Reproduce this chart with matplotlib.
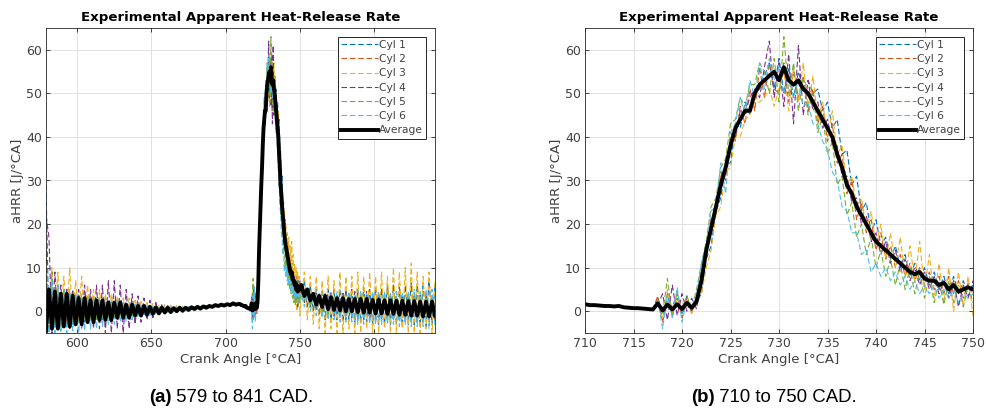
import numpy as np
import matplotlib
matplotlib.use("Agg")
import matplotlib.pyplot as plt

# ---------------- data ----------------
# crank-angle sampling: coarse before/after combustion, fine around it
crank_angle = np.concatenate([np.arange(579, 710, 2),        # 66 samples
                              np.arange(710, 750.5, 0.5),    # 81 samples
                              np.arange(751, 842, 2)])       # 46 samples

avg = [
    # 579..709
    -4.5, 5, -4, 4.5, -4, 4, -3.5, 4, -3.5, 3.5,
    -3, 3, -3, 3, -2.5, 2.5, -2.5, 2.5, -2, 2.5,
    -2, 2, -2, 2, -1.5, 2, -1.5, 1.5, -1.5, 1.5,
    -1, 1.2, -1, 1.2, -0.8, 1, -0.6, 0.9, -0.5, 0.8,
    -0.3, 0.8, -0.2, 0.7, 0, 0.8, 0.1, 0.8, 0.3, 0.9,
    0.5, 1.0, 0.6, 1.1, 0.8, 1.2, 1.0, 1.4, 1.2, 1.5,
    1.3, 1.6, 1.4, 1.8, 1.5, 1.7,
    # 710..750
    1.6, 1.4, 1.4, 1.3, 1.2, 1.2, 1.1, 1.2, 0.9, 0.8,
    0.7, 0.7, 0.6, 0.5, 0.4, 1.8, 0.2, 1.5, 0.4, 1.6,
    0.5, 1.9, 0.8, 2.2, 7, 14, 19, 24, 29, 33,
    38, 42, 44, 46, 46, 50, 52, 53, 54, 55,
    53, 56, 53, 52, 53, 51, 50, 48, 46, 44,
    42, 40, 36, 33, 29, 27, 24, 22, 20, 18,
    16, 15, 14, 13, 12, 11, 10, 9, 8.5, 9,
    7.5, 7, 7, 6, 6.5, 5, 6, 4.5, 5, 5.5,
    5,
    # 751..841
    6, 3.5, 5, 2.5, 4, 1.5, 3.5, 1, 3.5, 0.5,
    3.2, 0.3, 3, 0.2, 3, 0, 2.8, 0, 2.8, -0.2,
    2.8, -0.3, 2.8, -0.3, 2.6, -0.5, 2.6, -0.5, 2.5, -0.6,
    2.5, -0.6, 2.4, -0.8, 2.4, -0.8, 2.3, -1, 2.3, -1,
    2.2, -1.2, 2.2, -1.2, 2.2, -1,
]

cyl1 = [
    29, -5, 7, -4, 5, -3.5, 5, -3, 4, -3,
    3.5, -2.5, 3, -2.5, 3, -2, 2.5, -2, 2.5, -2,
    2, -1.5, 2, -1.5, 2, -1.2, 1.6, -1, 1.5, -1,
    1.3, -0.8, 1.2, -0.6, 1, -0.5, 1, -0.3, 0.9, -0.2,
    0.8, 0, 0.8, 0.2, 0.9, 0.3, 0.9, 0.4, 1.0, 0.6,
    1.0, 0.7, 1.1, 0.9, 1.2, 1.0, 1.3, 1.2, 1.4, 1.3,
    1.6, 1.4, 1.7, 1.5, 1.8, 1.6,
    1.7, 1.5, 1.4, 1.3, 1.3, 1.2, 1.1, 1.1, 1.0, 0.8,
    0.8, 0.6, 0.6, 0.5, 0.4, 3, -2, 4, -1, 3,
    -0.5, 3.5, 0, 2, 4, 12, 15, 23, 26, 34,
    34, 43, 42, 48, 45, 50, 51, 54, 57, 51,
    58, 50, 56, 49, 55, 51, 53, 50, 51, 46,
    48, 42, 44, 36, 37, 29, 31, 23, 25, 18,
    21, 15, 17, 12, 15, 10, 13, 8, 11, 7,
    10, 6, 9, 5, 8, 4, 8, 4, 7, 3.5,
    6,
    4, 7, 1, 6, 0, 5, -1, 5, -2, 5,
    -2, 5, -2, 5, -2.5, 5, -2, 5, -2.5, 5,
    -2.5, 5.5, -2.5, 5, -3, 5.5, -3, 5, -3, 6,
    -3, 6, -3, 5.5, -3.5, 6, -3, 6.5, -3.5, 6,
    -3.5, 6.5, -3.5, 7, -3, 6,
]

cyl2 = [
    12, -3, 5, -3, 4, -3, 4, -2.5, 3.5, -2.5,
    3, -2.5, 3, -2, 2.5, -2, 2.5, -2, 2, -1.5,
    2, -1.5, 2, -1.5, 1.5, -1, 1.5, -1, 1.5, -1,
    1.2, -0.8, 1.1, -0.6, 1, -0.4, 0.9, -0.3, 0.8, -0.2,
    0.8, 0, 0.8, 0.1, 0.8, 0.3, 0.9, 0.4, 1.0, 0.5,
    1.0, 0.7, 1.1, 0.8, 1.2, 1.0, 1.3, 1.1, 1.4, 1.3,
    1.5, 1.4, 1.6, 1.5, 1.7, 1.6,
    1.6, 1.5, 1.4, 1.3, 1.2, 1.1, 1.1, 1.0, 0.9, 0.8,
    0.7, 0.6, 0.5, 0.5, 0.4, 3.5, -2.5, 2.5, 1, 4,
    -1.5, 3, -0.5, 3.5, 9, 13, 21, 22, 32, 30,
    41, 39, 47, 43, 51, 46, 56, 49, 57, 51,
    50, 57, 48, 55, 49, 54, 46, 51, 43, 47,
    39, 43, 34, 36, 27, 30, 21, 25, 18, 21,
    14, 18, 12, 15, 10, 13, 8, 11, 7, 10,
    6, 9, 5, 8, 4, 8, 4, 7, 3, 6.5,
    4,
    5, 3, 5, 2, 4, 1, 4, 0, 4, 0,
    4, -0.5, 3.5, -0.5, 3.5, -1, 3.5, -1, 3.5, -1,
    3.5, -1, 3.5, -1.5, 3.5, -1.5, 3, -1.5, 3.5, -1.5,
    3.5, -1.5, 3, -2, 3.5, -2, 3, -2, 3.5, -2,
    3, -2, 3.5, -2, 3, -2,
]

cyl3 = [
    8, -2, 10, -1, 9, -2, 8, -1, 10, -2,
    7, -1.5, 8, -2, 6, -1.5, 5, -2, 5, -1.5,
    4, -1.5, 4, -1, 3.5, -1, 3, -1, 3, -0.8,
    2.5, -0.6, 2.2, -0.5, 2, -0.3, 1.8, -0.2, 1.6, 0,
    1.5, 0, 1.4, 0.2, 1.3, 0.3, 1.2, 0.4, 1.2, 0.6,
    1.2, 0.7, 1.3, 0.9, 1.3, 1.0, 1.4, 1.1, 1.5, 1.3,
    1.6, 1.4, 1.7, 1.5, 1.8, 1.6,
    1.6, 1.4, 1.4, 1.3, 1.2, 1.2, 1.0, 1.1, 0.9, 0.8,
    0.7, 0.7, 0.6, 0.4, 0.3, 2.5, -2, 5, -1, 3,
    1.5, 2.5, -0.5, 2, 4, 10, 14, 22, 24, 32,
    33, 40, 40, 44, 45, 48, 48, 49, 51, 47,
    51, 55, 46, 56, 48, 57, 47, 54, 44, 48,
    40, 46, 36, 38, 29, 31, 24, 26, 19, 23,
    15, 20, 12, 18, 10, 17, 8, 15, 7, 16,
    5, 13, 3, 11, 2, 10, 0, 9, 1, 8,
    -1,
    3, 9, -2, 8, -3, 8, -4, 7, -5, 8,
    -4, 7, -5, 9, -5, 8, -4, 8, -5, 9,
    -5, 8, -4, 9, -5, 8, -5, 9, -4, 8,
    -5, 10, -5, 9, -4, 10, -5, 11, -5, 9,
    -5, 8, -4, 9, -5, 7,
]

cyl4 = [
    22, 17, -5, 9, -4, 6, -3, 5, -4, 5,
    -3, 5, -4, 6, -3, 5, -4, 6, -4, 6,
    -5, 7, -5, 7, -4, 6, -5, 5, -4, 4,
    -3, 3.5, -2.5, 3, -2, 2.5, -1.5, 2, -1, 1.5,
    -0.5, 1.3, 0, 1.1, 0.2, 1, 0.3, 1, 0.5, 1,
    0.6, 1.1, 0.8, 1.2, 0.9, 1.3, 1.1, 1.4, 1.2, 1.5,
    1.4, 1.6, 1.5, 1.8, 1.6, 1.7,
    1.6, 1.4, 1.3, 1.3, 1.2, 1.1, 1.1, 1.0, 0.9, 0.8,
    0.7, 0.6, 0.6, 0.5, 0.4, 1.5, 4, -2, 6, -1,
    4, 0, 3, 0.5, 8, 12, 21, 23, 31, 33,
    40, 40, 46, 46, 49, 51, 49, 56, 62, 49,
    57, 47, 59, 43, 61, 45, 53, 46, 48, 42,
    44, 38, 38, 31, 31, 25, 26, 20, 22, 16,
    18, 13, 16, 11, 14, 9, 12, 7, 10, 6,
    9, 5, 8, 4, 7, 3, 7, 1, 6, 3,
    7,
    6, 2, 5, 1, 4, 0, 4, -1, 4, -1,
    4.5, -1.5, 4, -1.5, 4.5, -2, 4, -1.5, 4.5, -2,
    4, -2, 4.5, -2, 4, -2, 4.5, -2, 4, -2,
    4, -2, 4.5, -2, 4, -2.5, 4, -2, 4, -2.5,
    4, -2.5, 4, -2, 3.5, -2,
]

cyl5 = [
    14, -4, 9, -3, 6, -3, 5, -3, 4, -2.5,
    4, -2.5, 3, -2, 3, -2, 2.5, -2, 2.5, -1.5,
    2, -1.5, 2, -1.2, 1.8, -1, 1.6, -1, 1.4, -0.8,
    1.3, -0.6, 1.2, -0.5, 1.1, -0.3, 1.0, -0.2, 0.9, 0,
    0.9, 0.1, 0.9, 0.2, 0.9, 0.3, 1.0, 0.5, 1.0, 0.6,
    1.1, 0.7, 1.1, 0.9, 1.2, 1.0, 1.3, 1.2, 1.4, 1.3,
    1.5, 1.4, 1.7, 1.5, 1.8, 1.6,
    1.6, 1.5, 1.4, 1.3, 1.2, 1.2, 1.1, 1.1, 0.9, 0.9,
    0.7, 0.7, 0.6, 0.5, 0.4, 2.5, -0.5, 7.5, -1.5, 4.5,
    -0.5, 3.5, 0.5, 5, 11, 16, 24, 26, 33, 35,
    43, 44, 49, 47, 52, 52, 57, 55, 50, 58,
    48, 63, 50, 57, 46, 54, 45, 50, 41, 45,
    36, 39, 29, 31, 22, 25, 17, 20, 13, 17,
    10, 14, 8, 12, 6, 11, 5, 10, 4, 9,
    3, 8, 2, 7, 1.5, 7, 2, 6, 1, 6,
    2,
    5, 2.5, 4.5, 1.5, 4, 1, 3.5, 0, 3.5, -0.5,
    3.5, -1, 3.5, -1, 3, -1, 3.5, -1.5, 3, -1.5,
    3.5, -1.5, 3, -1.5, 3.5, -2, 3, -1.5, 3.5, -2,
    3, -2, 3.5, -2, 3, -2, 3.5, -2.5, 3, -2.5,
    3.5, -2.5, 3, -2.5, 3.5, -2,
]

cyl6 = [
    6, -5, 7, -5, 6, -5, 5, -5, 5, -4.5,
    4, -5, 4, -4.5, 3.5, -4, 3.5, -4, 3, -3.5,
    3, -3, 2.5, -3, 2.5, -2.5, 2, -2.5, 2, -2,
    1.6, -1.5, 1.5, -1.2, 1.3, -1, 1.2, -0.8, 1.1, -0.5,
    1.0, -0.3, 1.0, -0.1, 0.9, 0.1, 0.9, 0.3, 1.0, 0.5,
    1.0, 0.6, 1.1, 0.8, 1.2, 0.9, 1.3, 1.1, 1.4, 1.2,
    1.5, 1.4, 1.6, 1.5, 1.7, 1.6,
    1.7, 1.5, 1.4, 1.3, 1.3, 1.2, 1.1, 1.0, 1.0, 0.8,
    0.7, 0.6, 0.6, 0.5, 0.4, 2.5, -4, 3.5, -1.5, 5.5,
    -2.5, 2.5, 0.5, 3.5, 11, 15, 23, 24, 34, 27,
    41, 43, 49, 45, 53, 49, 57, 51, 58, 53,
    56, 50, 54, 49, 53, 47, 48, 43, 43, 39,
    37, 32, 30, 24, 23, 18, 18, 13, 14, 9,
    11, 8, 10, 7, 9, 6, 8, 5, 7, 4,
    6, 4, 6, 3, 5, 3, 5, 2, 4, 3,
    4,
    4, 1, 4, 0, 3.5, -1, 4, -1.5, 4, -2,
    4, -2, 4.5, -2.5, 4, -2.5, 4.5, -2.5, 4, -3,
    4.5, -3, 4, -3, 4.5, -3, 4, -3, 4.5, -3,
    4, -3, 4.5, -3.5, 4, -3, 4.5, -3.5, 5, -3.5,
    4.5, -3.5, 5, -4, 5, -3.5,
]

cylinders = [cyl1, cyl2, cyl3, cyl4, cyl5, cyl6]
cyl_labels = ["Cyl 1", "Cyl 2", "Cyl 3", "Cyl 4", "Cyl 5", "Cyl 6"]
cyl_colors = ["#0072BD", "#D95319", "#EDB120", "#7E2F8E", "#77AC30", "#4DBEEE"]

panel_xlims = [(579, 841), (710, 750)]
panel_xticks = [[600, 650, 700, 750, 800], list(range(710, 751, 5))]
yticks = [0, 10, 20, 30, 40, 50, 60]
ylim = (-5, 65)
title = "Experimental Apparent Heat-Release Rate"
xlabel = "Crank Angle [°CA]"
ylabel = "aHRR [J/°CA]"
captions = [("(a)", " 579 to 841 CAD."), ("(b)", " 710 to 750 CAD.")]

# ---------------- plot ----------------
plt.rcParams['font.family'] = ['DejaVu Sans']
W, H = 987, 412
fig = plt.figure(figsize=(W / 100, H / 100), dpi=100)

axes_px = [(46, 28, 435, 333), (585, 28, 973, 333)]
text_col = "#404040"

for i, (x0, y0, x1, y1) in enumerate(axes_px):
    ax = fig.add_axes([x0 / W, 1 - y1 / H, (x1 - x0) / W, (y1 - y0) / H])
    for vals, lab, col in zip(cylinders, cyl_labels, cyl_colors):
        ax.plot(crank_angle, vals, color=col, lw=0.8, ls=(0, (5, 2.5)), label=lab)
    ax.plot(crank_angle, avg, color="black", lw=2.8, label="Average")
    ax.set_xlim(*panel_xlims[i])
    ax.set_ylim(*ylim)
    ax.set_xticks(panel_xticks[i])
    ax.set_yticks(yticks)
    ax.grid(True, color="#dcdcdc", lw=0.6)
    ax.set_axisbelow(True)
    ax.tick_params(direction="in", top=True, right=True, length=3, width=0.6,
                   labelsize=9, colors="#262626", labelcolor=text_col, pad=3)
    for s in ax.spines.values():
        s.set_color("#262626")
        s.set_linewidth(0.6)
    ax.set_title(title, fontsize=9.6, fontweight="bold", color="black", pad=5)
    ax.set_xlabel(xlabel, fontsize=9.5, color=text_col, labelpad=2)
    ax.set_ylabel(ylabel, fontsize=9.5, color=text_col, labelpad=1)
    leg = ax.legend(loc="upper right", fontsize=7.7, handlelength=3.4,
                    handletextpad=0.15, labelspacing=0.4, borderpad=0.3,
                    borderaxespad=0.8, frameon=True, fancybox=False,
                    framealpha=1, edgecolor="#262626")
    leg.get_frame().set_linewidth(0.7)
    for t in leg.get_texts():
        t.set_color(text_col)

# captions: bold label + normal text
renderer = fig.canvas.get_renderer()
cap_centers = [231, 774]
for (bold, rest), cx in zip(captions, cap_centers):
    tb = fig.text(0, 0, bold, fontsize=13.4, fontweight="bold", family="Liberation Sans")
    tr = fig.text(0, 0, rest, fontsize=13.4, family="Liberation Sans")
    wb = tb.get_window_extent(renderer).width
    wr = tr.get_window_extent(renderer).width
    start = cx - (wb + wr) / 2
    yy = 1 - 397 / H
    tb.set_position((start / W, yy))
    tb.set_va("center")
    tr.set_position(((start + wb) / W, yy))
    tr.set_va("center")

fig.savefig("out.png", dpi=100)
